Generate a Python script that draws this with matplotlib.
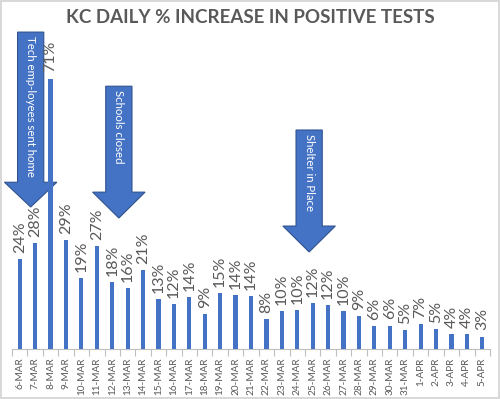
import matplotlib
matplotlib.use("Agg")
import matplotlib.pyplot as plt
from matplotlib.patches import Polygon

days = ["6-MAR", "7-MAR", "8-MAR", "9-MAR", "10-MAR", "11-MAR", "12-MAR",
        "13-MAR", "14-MAR", "15-MAR", "16-MAR", "17-MAR", "18-MAR", "19-MAR",
        "20-MAR", "21-MAR", "22-MAR", "23-MAR", "24-MAR", "25-MAR", "26-MAR",
        "27-MAR", "28-MAR", "29-MAR", "30-MAR", "31-MAR", "1-APR", "2-APR",
        "3-APR", "4-APR", "5-APR"]
pct = [23.6, 27.8, 71.0, 28.6, 18.6, 27.0, 17.6, 16.0, 20.7, 13.1, 11.8,
       13.6, 9.2, 14.6, 14.2, 14.0, 8.0, 10.0, 10.3, 12.0, 11.6, 10.1, 8.6,
       6.0, 6.2, 5.0, 6.6, 5.2, 4.0, 4.0, 3.3]

# events: (label, x position in category units, shaft top, head start, tip) in %
events = [
    ("Tech emp-loyees sent home", 0.71, 83.2, 43.8, 37.3),
    ("Schools closed", 6.43, 69.0, 41.2, 34.4),
    ("Shelter in Place", 18.77, 57.5, 32.3, 25.5),
]

BLUE = "#4472C4"
GRAY = "#595959"
plt.rcParams["font.family"] = ["Lato", "DejaVu Sans"]

fig = plt.figure(figsize=(5.0, 3.99), dpi=100)
fig.patch.set_edgecolor("#D9D9D9")
fig.patch.set_linewidth(1.5)
ax = fig.add_axes([0.024, 0.125, 0.956, 0.764])

x = list(range(len(days)))
ax.bar(x, pct, width=0.27, color=BLUE, zorder=3)

for i, v in enumerate(pct):
    ax.text(i, v + 1.6, f"{v:.0f}%", rotation=90, ha="center", va="bottom",
            fontsize=11.5, color=GRAY, zorder=4)

ax.set_xlim(-0.5, len(days) - 0.5)
ax.set_ylim(0, 80)
ax.set_yticks([])
for s in ["top", "right", "left"]:
    ax.spines[s].set_visible(False)
ax.spines["bottom"].set_color("#BFBFBF")
ax.set_xticks([i - 0.5 for i in range(len(days) + 1)])
ax.set_xticklabels([])
ax.set_xticks(x, minor=True)
ax.set_xticklabels(days, minor=True, rotation=90, fontsize=7.2, color=GRAY)
ax.tick_params(axis="x", which="major", length=5, color="#BFBFBF")
ax.tick_params(axis="x", which="minor", length=0, pad=6)

shaft_w = 0.85
head_w = 1.7
for label, cx, top, head, tip in events:
    pts = [(cx - shaft_w, top), (cx + shaft_w, top), (cx + shaft_w, head),
           (cx + head_w, head), (cx, tip), (cx - head_w, head),
           (cx - shaft_w, head)]
    ax.add_patch(Polygon(pts, closed=True, facecolor=BLUE, edgecolor="#2F528F",
                         linewidth=0.8, clip_on=False, zorder=2))
    ax.text(cx, top - 1.0, label, rotation=-90, ha="center", va="top",
            fontsize=8.2, color="white", zorder=5)

fig.text(0.5, 0.955, "KC DAILY % INCREASE IN POSITIVE TESTS", ha="center",
         va="center", fontsize=13.5, fontweight="bold", color=GRAY)

fig.savefig("out.png", dpi=100)
